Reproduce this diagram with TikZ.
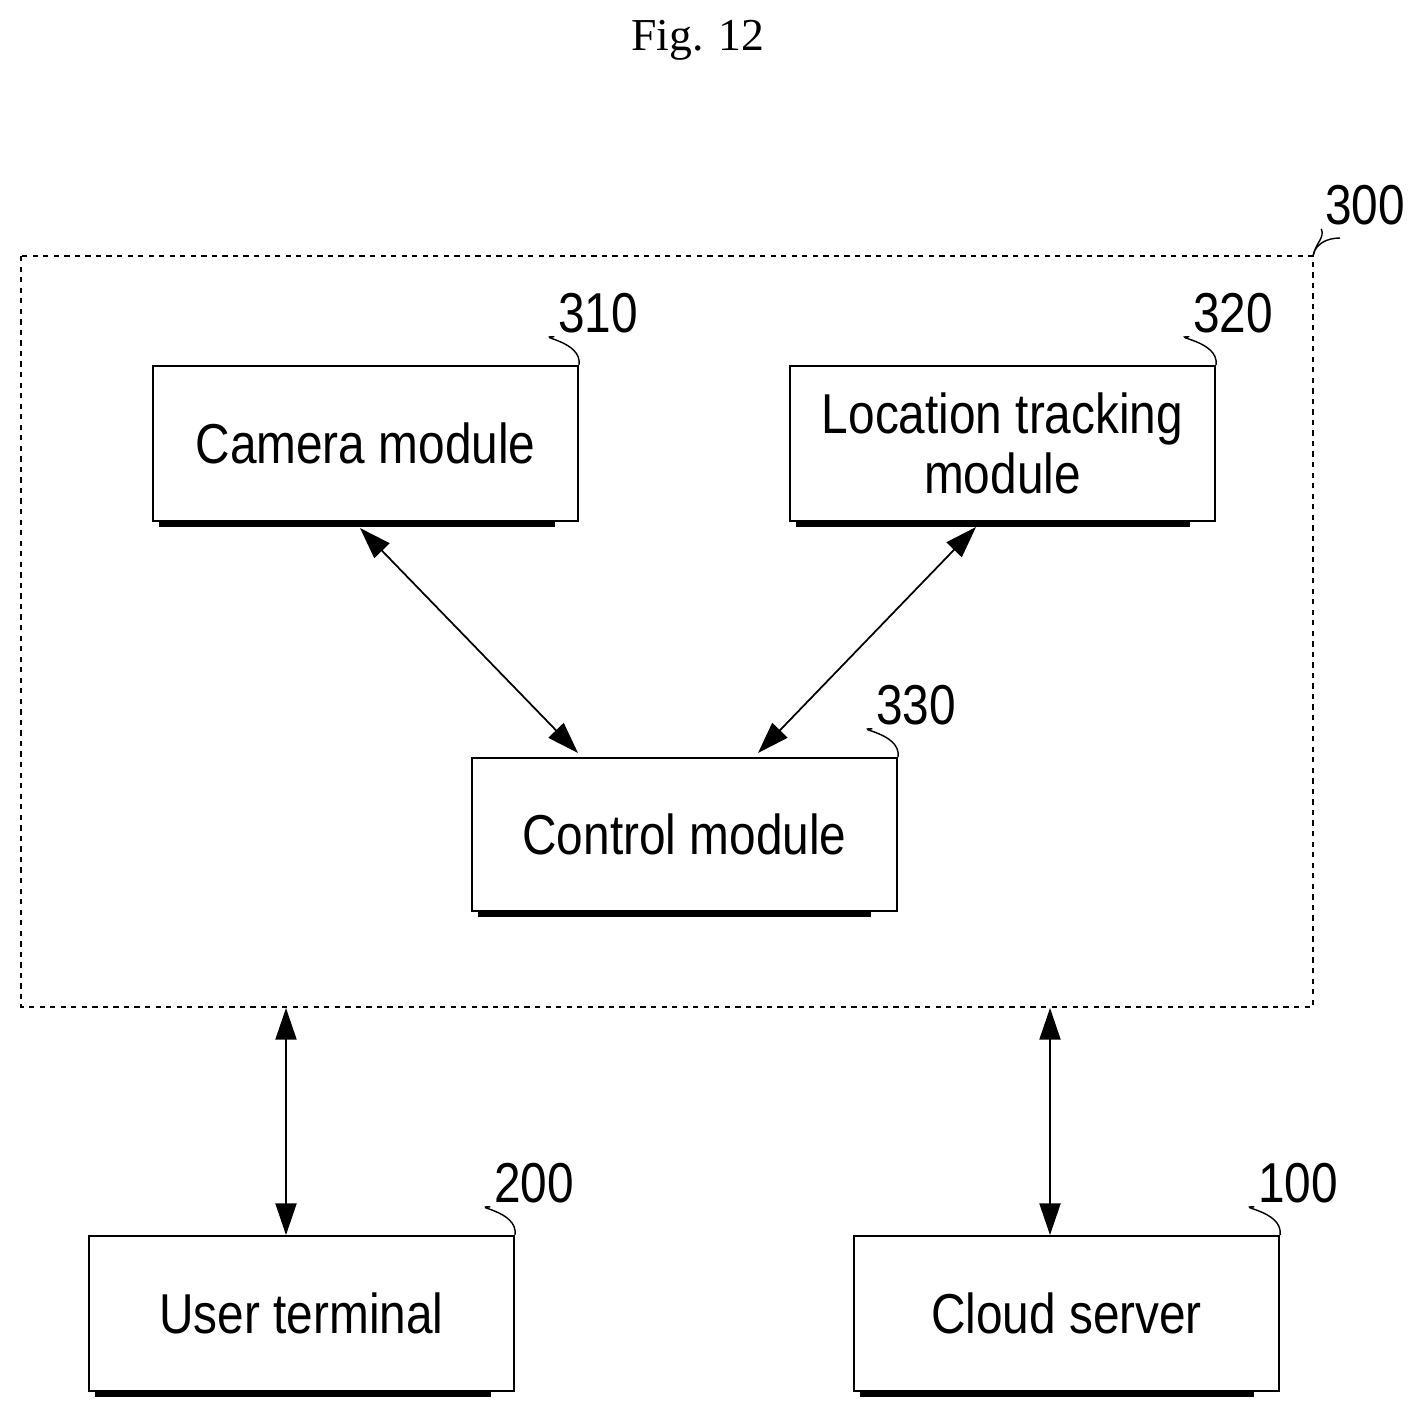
\documentclass[tikz,border=0pt]{standalone}
\usepackage{fontspec}
\setmainfont{Liberation Sans}
\newfontfamily\figfont{Liberation Serif}
\usetikzlibrary{arrows.meta}
\begin{document}
\begin{tikzpicture}[x=0.02cm,y=-0.02cm,
  box/.style={draw,line width=1.2pt,fill=white,inner sep=0pt,align=center,font=\fontsize{32}{38}\selectfont},
  lbl/.style={font=\fontsize{32}{38}\selectfont,inner sep=0pt},
  arr/.style={line width=1pt,{Triangle[length=18pt,width=12pt]}-{Triangle[length=18pt,width=12pt]}},
  lead/.style={line width=0.8pt}]
\useasboundingbox (0,0) rectangle (1423,1418);
\node[font=\figfont\fontsize{26}{30}\selectfont] (fig) at (698,40) {Fig. 12};
\draw[dashed,line width=0.8pt] (21,256) rectangle (1313,1007);
\node (n300) at (1365,205) [lbl] {\scalebox{0.85}[1]{300}};
\draw[lead] (1313,256) to[out=80,in=180] (1340,238) -- (1340,238);
% boxes: macro
\def\mybox#1#2#3#4#5#6{%
  \fill[black] (#2+7,#3+7) rectangle (#4+7,#5+7);
  \node[box,minimum width=(#4-#2)*0.02cm,minimum height=(#5-#3)*0.02cm,anchor=north west] (#1) at (#2,#3) {\scalebox{0.85}[1]{\parbox{10cm}{\centering #6}}};}
\mybox{cam}{152}{365}{548}{520}{Camera module}
\mybox{loc}{789}{365}{1183}{520}{Location tracking\\[-4pt]module}
\mybox{ctl}{471}{757}{864}{910}{Control module}
\mybox{usr}{88}{1235}{484}{1390}{User terminal}
\mybox{cld}{853}{1235}{1247}{1390}{Cloud server}
\node[lbl] (n310) at (598,313) {\scalebox{0.85}[1]{310}};
\node[lbl] (n320) at (1233,313) {\scalebox{0.85}[1]{320}};
\node[lbl] (n330) at (916,705) {\scalebox{0.85}[1]{330}};
\node[lbl] (n200) at (534,1183) {\scalebox{0.85}[1]{200}};
\node[lbl] (n100) at (1298,1183) {\scalebox{0.85}[1]{100}};
\foreach \c/\n in {cam/n310,loc/n320,ctl/n330,usr/n200,cld/n100}{
  \draw[lead] (\c.north east) .. controls ([xshift=2pt,yshift=14pt]\c.north east) and ([xshift=-14pt,yshift=-2pt]\n.south west) .. ([xshift=-2pt,yshift=-2pt]\n.south west);}
\draw[lead] (1313,256) .. controls (1316,242) and (1325,238) .. ([xshift=-2pt,yshift=-2pt]n300.south west);
\coordinate (o1) at (286,1008);
\coordinate (o2) at (1050,1008);
\draw[arr] (360,528) -- (578,753);
\draw[arr] (976,527) -- (758,753);
\draw[arr] (o1) -- (usr.north -| o1);
\draw[arr] (o2) -- (cld.north -| o2);
\end{tikzpicture}
\end{document}
